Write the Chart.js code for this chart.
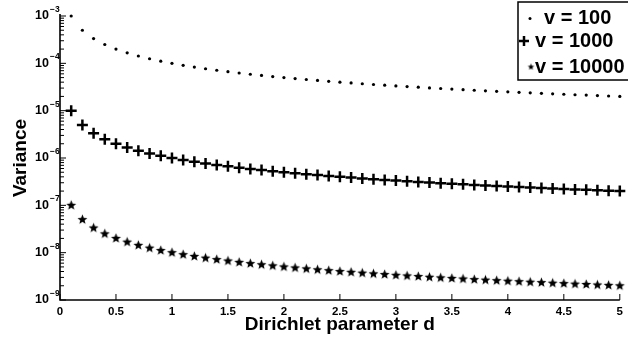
<!DOCTYPE html>
<html lang="en">
<head>
<meta charset="UTF-8" />
<title>Variance vs Dirichlet parameter</title>
<script src="https://cdn.jsdelivr.net/npm/chart.js"></script>
<style>
  html, body { margin: 0; padding: 0; background: #fff; }
  #wrap { width: 628px; height: 339px; }
</style>
</head>
<body>
<div id="wrap"><canvas id="grafico" width="628" height="339"></canvas></div>
<script>
  // === DATA ===
  const dParam = [
    0.1, 0.2, 0.3, 0.4, 0.5, 0.6, 0.7, 0.8, 0.9, 1.0,
    1.1, 1.2, 1.3, 1.4, 1.5, 1.6, 1.7, 1.8, 1.9, 2.0,
    2.1, 2.2, 2.3, 2.4, 2.5, 2.6, 2.7, 2.8, 2.9, 3.0,
    3.1, 3.2, 3.3, 3.4, 3.5, 3.6, 3.7, 3.8, 3.9, 4.0,
    4.1, 4.2, 4.3, 4.4, 4.5, 4.6, 4.7, 4.8, 4.9, 5.0
  ];
  const var100 = [
    1.00e-3, 5.00e-4, 3.33e-4, 2.50e-4, 2.00e-4, 1.67e-4, 1.43e-4, 1.25e-4, 1.11e-4, 1.00e-4,
    9.09e-5, 8.33e-5, 7.69e-5, 7.14e-5, 6.67e-5, 6.25e-5, 5.88e-5, 5.56e-5, 5.26e-5, 5.00e-5,
    4.76e-5, 4.55e-5, 4.35e-5, 4.17e-5, 4.00e-5, 3.85e-5, 3.70e-5, 3.57e-5, 3.45e-5, 3.33e-5,
    3.23e-5, 3.13e-5, 3.03e-5, 2.94e-5, 2.86e-5, 2.78e-5, 2.70e-5, 2.63e-5, 2.56e-5, 2.50e-5,
    2.44e-5, 2.38e-5, 2.33e-5, 2.27e-5, 2.22e-5, 2.17e-5, 2.13e-5, 2.08e-5, 2.04e-5, 2.00e-5
  ];
  const var1000 = [
    1.00e-5, 5.00e-6, 3.33e-6, 2.50e-6, 2.00e-6, 1.67e-6, 1.43e-6, 1.25e-6, 1.11e-6, 1.00e-6,
    9.09e-7, 8.33e-7, 7.69e-7, 7.14e-7, 6.67e-7, 6.25e-7, 5.88e-7, 5.56e-7, 5.26e-7, 5.00e-7,
    4.76e-7, 4.55e-7, 4.35e-7, 4.17e-7, 4.00e-7, 3.85e-7, 3.70e-7, 3.57e-7, 3.45e-7, 3.33e-7,
    3.23e-7, 3.13e-7, 3.03e-7, 2.94e-7, 2.86e-7, 2.78e-7, 2.70e-7, 2.63e-7, 2.56e-7, 2.50e-7,
    2.44e-7, 2.38e-7, 2.33e-7, 2.27e-7, 2.22e-7, 2.17e-7, 2.13e-7, 2.08e-7, 2.04e-7, 2.00e-7
  ];
  const var10000 = [
    1.00e-7, 5.00e-8, 3.33e-8, 2.50e-8, 2.00e-8, 1.67e-8, 1.43e-8, 1.25e-8, 1.11e-8, 1.00e-8,
    9.09e-9, 8.33e-9, 7.69e-9, 7.14e-9, 6.67e-9, 6.25e-9, 5.88e-9, 5.56e-9, 5.26e-9, 5.00e-9,
    4.76e-9, 4.55e-9, 4.35e-9, 4.17e-9, 4.00e-9, 3.85e-9, 3.70e-9, 3.57e-9, 3.45e-9, 3.33e-9,
    3.23e-9, 3.13e-9, 3.03e-9, 2.94e-9, 2.86e-9, 2.78e-9, 2.70e-9, 2.63e-9, 2.56e-9, 2.50e-9,
    2.44e-9, 2.38e-9, 2.33e-9, 2.27e-9, 2.22e-9, 2.17e-9, 2.13e-9, 2.08e-9, 2.04e-9, 2.00e-9
  ];
  const seriesLabels = ['v = 100', 'v = 1000', 'v = 10000'];
  const xTicks = [0, 0.5, 1, 1.5, 2, 2.5, 3, 3.5, 4, 4.5, 5];
  const yDecades = [-9, -8, -7, -6, -5, -4, -3];

  const FONT = '"Liberation Sans", Arial, Helvetica, sans-serif';
  Chart.defaults.font.family = FONT;
  Chart.defaults.color = '#000';

  // filled pentagram marker
  function criarEstrela(r, inner) {
    const s = Math.ceil(r * 2 + 2);
    const c = document.createElement('canvas');
    c.width = s; c.height = s;
    const g = c.getContext('2d');
    g.beginPath();
    for (let k = 0; k < 10; k++) {
      const rad = k % 2 ? inner : r;
      const ang = -Math.PI / 2 + k * Math.PI / 5;
      g.lineTo(s / 2 + rad * Math.cos(ang), s / 2 + rad * Math.sin(ang));
    }
    g.closePath();
    g.fillStyle = '#000';
    g.fill();
    return c;
  }
  const estrela = criarEstrela(5.2, 2.3);
  const estrelaLegenda = criarEstrela(3.4, 1.5);

  const pontos = arr => dParam.map((d, i) => ({ x: d, y: arr[i] }));

  // axes, inward ticks, superscript labels and legend (MATLAB look)
  const eixosPlugin = {
    id: 'eixosMatlab',
    afterDraw(chart) {
      const { ctx, chartArea: a, scales: { x, y } } = chart;
      ctx.save();
      ctx.strokeStyle = '#000';
      ctx.fillStyle = '#000';
      ctx.lineWidth = 1.6;

      ctx.beginPath();
      ctx.moveTo(a.left, a.top - 2);
      ctx.lineTo(a.left, a.bottom);
      ctx.lineTo(a.right, a.bottom);
      ctx.stroke();

      ctx.lineWidth = 1;
      ctx.beginPath();
      xTicks.forEach(v => {
        const px = x.getPixelForValue(v);
        ctx.moveTo(px, a.bottom);
        ctx.lineTo(px, a.bottom - 6);
      });
      yDecades.forEach(e => {
        const py = y.getPixelForValue(Math.pow(10, e));
        ctx.moveTo(a.left, py);
        ctx.lineTo(a.left + 6, py);
        if (e < -3) {
          for (let m = 2; m <= 9; m++) {
            const pm = y.getPixelForValue(m * Math.pow(10, e));
            ctx.moveTo(a.left, pm);
            ctx.lineTo(a.left + 4, pm);
          }
        }
      });
      ctx.stroke();

      yDecades.forEach(e => {
        const py = y.getPixelForValue(Math.pow(10, e));
        ctx.font = 'bold 12.5px ' + FONT;
        ctx.textAlign = 'right';
        ctx.textBaseline = 'middle';
        ctx.fillText('10', a.left - 11, py);
        ctx.font = 'bold 8.5px ' + FONT;
        ctx.textAlign = 'left';
        ctx.fillText('\u2212' + Math.abs(e), a.left - 10, py - 6.5);
      });

      // legend
      const lx = 518, ly = 2, lw = 130, lh = 78;
      ctx.fillStyle = '#fff';
      ctx.fillRect(lx, ly, lw, lh);
      ctx.strokeStyle = '#000';
      ctx.lineWidth = 1.5;
      ctx.strokeRect(lx, ly, lw, lh);
      ctx.fillStyle = '#000';
      const linhas = [18.5, 41, 67];
      // dot
      ctx.beginPath();
      ctx.arc(530, linhas[0], 1.5, 0, Math.PI * 2);
      ctx.fill();
      // plus
      ctx.lineWidth = 2.5;
      ctx.beginPath();
      ctx.moveTo(518.5 + 0.5, linhas[1]); ctx.lineTo(529, linhas[1]);
      ctx.moveTo(524, linhas[1] - 5); ctx.lineTo(524, linhas[1] + 5);
      ctx.stroke();
      // star
      ctx.drawImage(estrelaLegenda, 531 - estrelaLegenda.width / 2, linhas[2] - estrelaLegenda.height / 2);

      ctx.font = 'bold 20px ' + FONT;
      ctx.textAlign = 'left';
      ctx.textBaseline = 'middle';
      ctx.fillText(seriesLabels[0], 544, linhas[0]);
      ctx.fillText(seriesLabels[1], 535, linhas[1]);
      ctx.fillText(seriesLabels[2], 535, linhas[2]);
      ctx.restore();
    }
  };

  new Chart(document.getElementById('grafico'), {
    type: 'scatter',
    data: {
      datasets: [
        {
          label: seriesLabels[0],
          data: pontos(var100),
          pointStyle: 'circle',
          pointRadius: 1.6,
          backgroundColor: '#000',
          borderWidth: 0,
          clip: false
        },
        {
          label: seriesLabels[1],
          data: pontos(var1000),
          pointStyle: 'cross',
          pointRadius: 5.5,
          borderColor: '#000',
          borderWidth: 2.5,
          clip: false
        },
        {
          label: seriesLabels[2],
          data: pontos(var10000),
          pointStyle: estrela,
          pointRadius: 5,
          clip: false
        }
      ]
    },
    options: {
      responsive: false,
      animation: false,
      events: [],
      layout: { padding: { top: 16, right: 3, left: 0, bottom: 0 } },
      plugins: {
        legend: { display: false },
        tooltip: { enabled: false }
      },
      scales: {
        x: {
          type: 'linear',
          min: 0,
          max: 5,
          grid: { display: false, drawTicks: false, tickLength: 0 },
          border: { display: false },
          ticks: {
            color: '#000',
            font: { size: 11.5, weight: 'bold' },
            padding: 5,
            maxRotation: 0,
            autoSkip: false,
            callback: v => String(v)
          },
          afterBuildTicks: s => { s.ticks = xTicks.map(v => ({ value: v })); },
          afterFit: s => { s.height = 39; },
          title: {
            display: true,
            text: 'Dirichlet parameter d',
            color: '#000',
            font: { size: 19, weight: 'bold' },
            padding: { top: 0, bottom: 3 }
          }
        },
        y: {
          type: 'logarithmic',
          min: 1e-9,
          max: 1e-3,
          grid: { display: false, drawTicks: false, tickLength: 0 },
          border: { display: false },
          ticks: { display: false },
          afterFit: s => { s.width = 60; },
          title: {
            display: true,
            text: 'Variance',
            color: '#000',
            font: { size: 19, weight: 'bold' },
            padding: { top: 9, bottom: 0 }
          }
        }
      }
    },
    plugins: [eixosPlugin]
  });
</script>
</body>
</html>
